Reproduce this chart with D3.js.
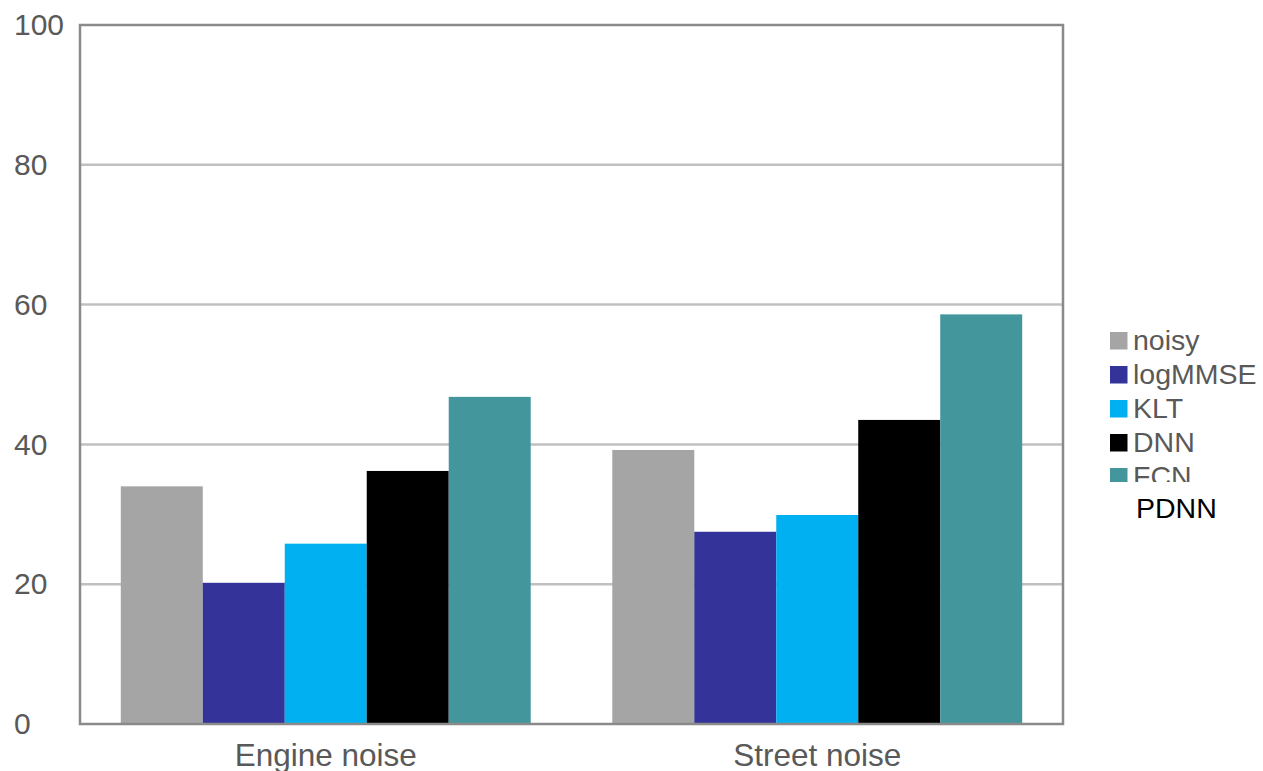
<!DOCTYPE html>
<html>
<head>
<meta charset="utf-8">
<script src="https://cdn.jsdelivr.net/npm/d3@7"></script>
<style>
  html, body { margin: 0; padding: 0; background: #fff; }
  svg { display: block; font-family: "Liberation Sans", Arial, sans-serif; }
</style>
</head>
<body>
<svg id="chart" width="1263" height="771"></svg>
<script>
// Noise conditions on the x axis
const categories = ["Engine noise", "Street noise"];
// Enhancement methods, one bar per method in each group
const methods = ["noisy", "logMMSE", "KLT", "DNN", "FCN"];
const colors = ["#a5a5a5", "#333399", "#00b0f0", "#000000", "#43979c"];
// Scores per method, in the order of the categories
const noisy = [34.0, 39.2];
const logMMSE = [20.2, 27.5];
const KLT = [25.8, 29.9];
const DNN = [36.2, 43.5];
const FCN = [46.8, 58.6];
const yTicks = [0, 20, 40, 60, 80, 100];

const seriesValues = [noisy, logMMSE, KLT, DNN, FCN];

const svg = d3.select("#chart");
const plot = { left: 80, right: 1063, top: 25, bottom: 724 };

const x0 = d3.scaleBand().domain(categories)
  .range([plot.left, plot.right]).paddingInner(0.166).paddingOuter(0.083);
const x1 = d3.scaleBand().domain(methods).range([0, x0.bandwidth()]).padding(0);
const y = d3.scaleLinear().domain([0, 100]).range([plot.bottom, plot.top]);

// Horizontal gridlines
svg.append("g").selectAll("line").data(yTicks.filter(t => t > 0 && t < 100)).join("line")
  .attr("x1", plot.left).attr("x2", plot.right)
  .attr("y1", d => y(d)).attr("y2", d => y(d))
  .attr("stroke", "#c0c0c0").attr("stroke-width", 2.5);

// Bars
const groups = svg.append("g").selectAll("g").data(categories).join("g")
  .attr("transform", c => `translate(${x0(c)},0)`);
groups.selectAll("rect")
  .data((c, ci) => methods.map((m, mi) => ({ m, mi, v: seriesValues[mi][ci] })))
  .join("rect")
  .attr("x", d => x1(d.m))
  .attr("width", x1.bandwidth())
  .attr("y", d => y(d.v))
  .attr("height", d => y(0) - y(d.v))
  .attr("fill", d => colors[d.mi]);

// Plot frame
svg.append("rect")
  .attr("x", plot.left).attr("y", plot.top)
  .attr("width", plot.right - plot.left).attr("height", plot.bottom - plot.top)
  .attr("fill", "none").attr("stroke", "#8a8a8a").attr("stroke-width", 2.5);

// Y axis labels, left aligned at the page edge
const yAxis = d3.axisLeft(y).tickValues(yTicks).tickSize(0).tickPadding(0);
const ya = svg.append("g").attr("transform", `translate(${plot.left},0)`).call(yAxis);
ya.select(".domain").remove();
ya.selectAll("text")
  .attr("x", 14 - plot.left)
  .attr("text-anchor", "start")
  .attr("font-size", 30).attr("fill", "#595959")
  .attr("font-family", "Liberation Sans, Arial, sans-serif");

// X axis labels
const xAxis = d3.axisBottom(x0).tickSize(0).tickPadding(20);
const xa = svg.append("g").attr("transform", `translate(0,${plot.bottom})`).call(xAxis);
xa.select(".domain").remove();
xa.selectAll("text").attr("font-size", 31.5).attr("fill", "#595959")
  .attr("font-family", "Liberation Sans, Arial, sans-serif");

// Legend (clipped at the bottom of its box)
svg.append("clipPath").attr("id", "legendClip")
  .append("rect").attr("x", 1100).attr("y", 320).attr("width", 163).attr("height", 162);
const legend = svg.append("g").attr("clip-path", "url(#legendClip)");
const items = legend.selectAll("g").data(methods).join("g")
  .attr("transform", (d, i) => `translate(1110,${332 + i * 34})`);
items.append("rect").attr("width", 17.5).attr("height", 17.5)
  .attr("fill", (d, i) => colors[i]);
items.append("text").attr("x", 23).attr("y", 18)
  .attr("font-size", 28.5).attr("fill", "#595959").text(d => d);

svg.append("text").attr("x", 1136).attr("y", 518)
  .attr("font-size", 28.5).attr("fill", "#000").text("PDNN");
</script>
</body>
</html>
